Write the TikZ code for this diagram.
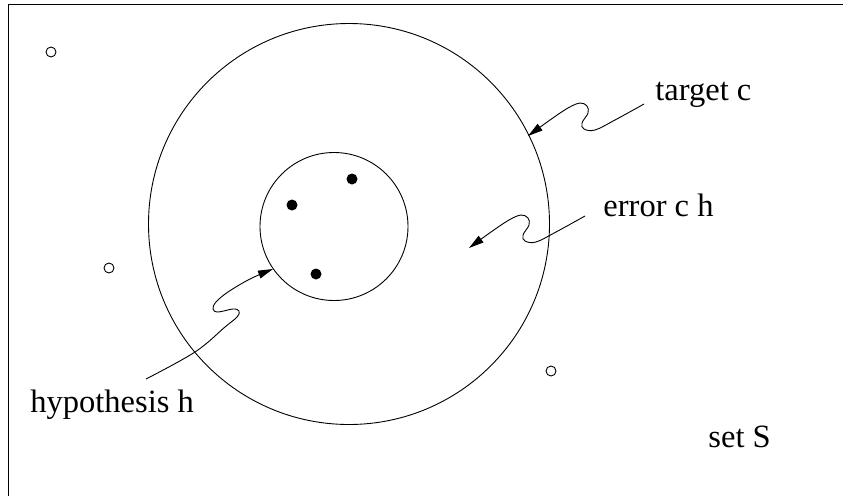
\documentclass[tikz,border=0pt]{standalone}
\usepackage{fontspec}
\setmainfont{Liberation Serif}
\usetikzlibrary{arrows.meta}
\begin{document}
\begin{tikzpicture}[x=1pt,y=-1pt,line width=0.9pt,
  lbl/.style={anchor=base west,inner sep=0pt,font=\fontsize{32.5}{39}\selectfont},
  ring/.style={draw,circle,inner sep=0pt},
  opendot/.style={draw,circle,inner sep=0pt,minimum size=10pt},
  fulldot/.style={fill,circle,inner sep=0pt,minimum size=11pt},
  wig/.style={-{Triangle[length=15pt,width=8pt]}}]
\useasboundingbox (0,0) rectangle (843,496);
% frame
\draw (843,4) -- (8.5,4) -- (8.5,496);
% circles
\node[ring,minimum size=401pt] (target) at (349,224) {};
\node[ring,minimum size=148pt] (hyp) at (334,226.5) {};
% points
\node[fulldot] (d1) at (352,179) {};
\node[fulldot] (d2) at (292,205) {};
\node[fulldot] (d3) at (316,274) {};
\node[opendot] (o1) at (51,52) {};
\node[opendot] (o2) at (109,268) {};
\node[opendot] (o3) at (551,371) {};
% labels
\node[lbl] (lt) at (655,100) {target c};
\node[lbl] (le) at (603,216) {error c h};
\node[lbl] (lh) at (30,412) {hypothesis h};
\node[lbl] (ls) at (708,447) {set S};
% wiggly arrows
\draw[wig] plot[smooth,tension=0.6] coordinates {(644,104) (615,120) (595,130) (584,129) (582,123) (588,113) (587,106) (580,103) (568,108) (550,120) (528,136)};
\begin{scope}[shift={(-59,112)}]
\draw[wig] plot[smooth,tension=0.6] coordinates {(644,104) (615,120) (595,130) (584,129) (582,123) (588,113) (587,106) (580,103) (568,108) (550,120) (528,136)};
\end{scope}
\draw[wig] plot[smooth,tension=0.6] coordinates {(146,379) (195,352) (225,327) (237,317) (239,311) (233,309) (218,312) (213,309) (216,302) (228,292) (250,279) (273,269)};
\end{tikzpicture}
\end{document}
